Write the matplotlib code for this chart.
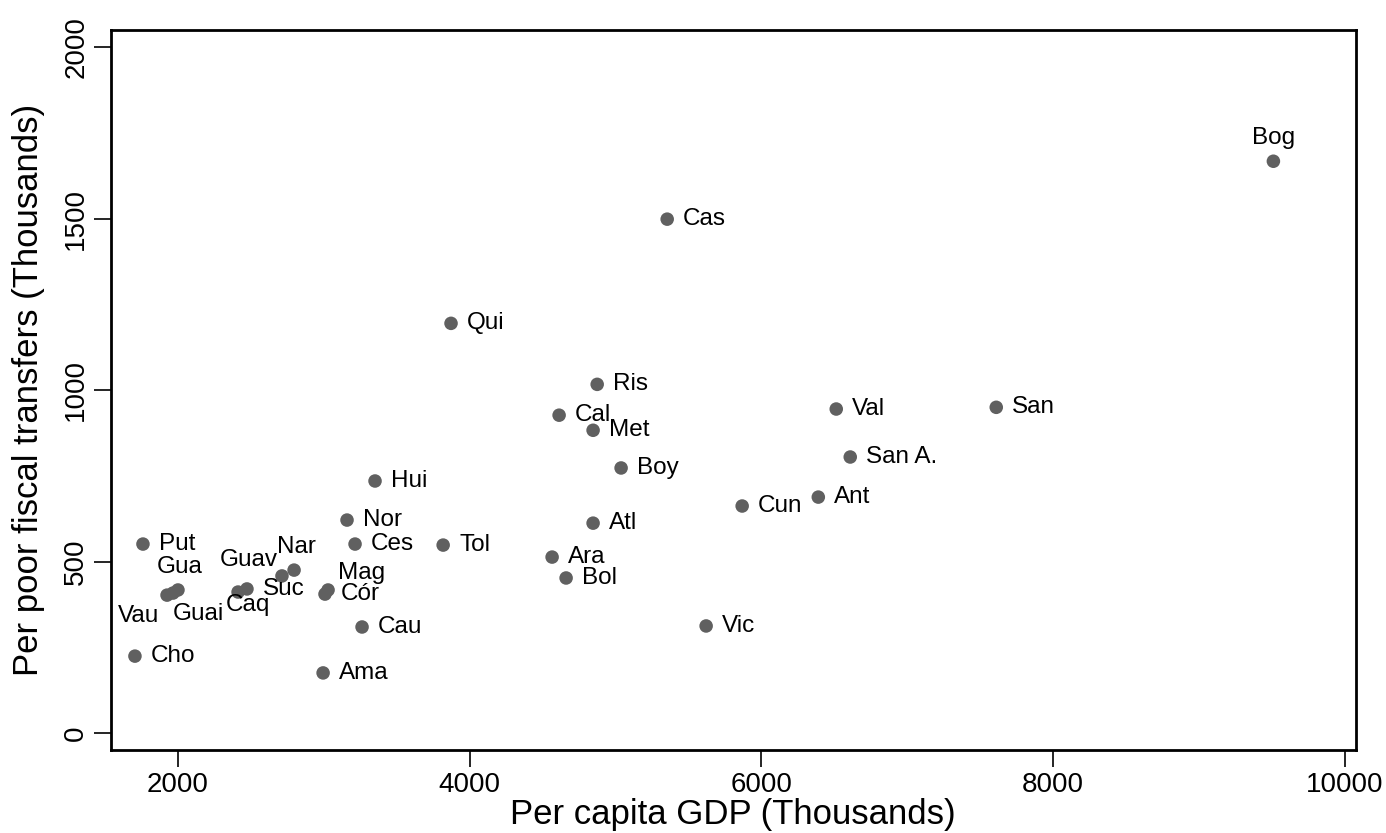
import matplotlib
matplotlib.use('Agg')
import matplotlib.pyplot as plt

plt.rcParams['font.family'] = ['Liberation Sans', 'DejaVu Sans']

# departamentos (abreviados)
names = ['Bog', 'Cas', 'Qui', 'Ris', 'Cal', 'Met', 'Boy', 'Val', 'San', 'San A.',
         'Ant', 'Cun', 'Atl', 'Ara', 'Bol', 'Vic', 'Hui', 'Nor', 'Ces', 'Tol',
         'Put', 'Nar', 'Guav', 'Mag', 'Cór', 'Cau', 'Ama', 'Cho', 'Gua', 'Guai',
         'Vau', 'Caq', 'Suc']
gdp = [9510, 5354, 3872, 4874, 4613, 4846, 5038, 6513, 7610, 6609,
       6390, 5868, 4846, 4565, 4661, 5621, 3351, 3159, 3214, 3818,
       1760, 2796, 2713, 3029, 3008, 3262, 2995, 1705, 2000, 1966,
       1925, 2412, 2473]
transfers = [1668, 1499, 1195, 1017, 927, 883, 773, 945, 950, 805,
             688, 662, 612, 513, 452, 312, 735, 621, 551, 548,
             551, 475, 458, 417, 405, 309, 175, 224, 417, 408,
             402, 411, 420]

# etiquetas que no van a la derecha del punto (offset en pixeles)
label_offsets = {
    'Bog': (0, 12, 'center', 'bottom'),
    'Gua': (2, 12, 'center', 'bottom'),
    'Nar': (2, 12, 'center', 'bottom'),
    'Guav': (-4, 5, 'right', 'bottom'),
    'Mag': (10, 6, 'left', 'bottom'),
    'Caq': (10, -2, 'center', 'top'),
    'Guai': (0, -10, 'left', 'top'),
    'Vau': (-8, -10, 'right', 'top'),
}

fig = plt.figure(figsize=(13.86, 8.33), dpi=100)
ax = fig.add_axes([0.080, 0.0996, 0.898, 0.864])

ax.scatter(gdp, transfers, s=95, color='#606060', edgecolors='none', zorder=3)

for n, x, y in zip(names, gdp, transfers):
    dx, dy, ha, va = label_offsets.get(n, (16, 0, 'left', 'center'))
    ax.annotate(n, (x, y), xytext=(dx, dy), textcoords='offset pixels',
                ha=ha, va=va, fontsize=17.5, color='black')

ax.set_xlim(1540, 10073)
ax.set_ylim(-50, 2050)
ax.set_xticks([2000, 4000, 6000, 8000, 10000])
ax.set_yticks([0, 500, 1000, 1500, 2000])
ax.tick_params(axis='both', direction='out', length=12, width=1.2, labelsize=20)
for lbl in ax.get_yticklabels():
    lbl.set_rotation(90)
    lbl.set_va('center')
for s in ax.spines.values():
    s.set_linewidth(2)
    s.set_color('black')

ax.set_xlabel('Per capita GDP (Thousands)', fontsize=25, labelpad=0)
ax.set_ylabel('Per poor fiscal transfers (Thousands)', fontsize=25)
ax.yaxis.set_label_coords(-0.053, 0.5)

fig.savefig('out.png', dpi=100)
